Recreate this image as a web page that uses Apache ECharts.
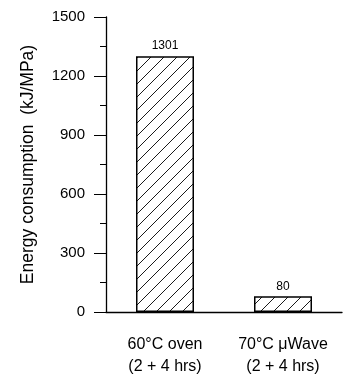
<!DOCTYPE html>
<html><head><meta charset="utf-8">
<script src="https://cdn.jsdelivr.net/npm/echarts@6/dist/echarts.min.js"></script>
<style>html,body{margin:0;padding:0;background:#fff}#c{width:350px;height:378px}</style>
</head><body><div id="c"></div>
<script>
const categories = ['60°C oven\n(2 + 4 hrs)', '70°C μWave\n(2 + 4 hrs)'];
const values = [1301, 80];
const yTicks = [0, 300, 600, 900, 1200, 1500];

function hatch() {
  const s = 13;
  const c = document.createElement('canvas');
  c.width = s; c.height = s;
  const g = c.getContext('2d');
  g.fillStyle = '#fff'; g.fillRect(0, 0, s, s);
  g.strokeStyle = '#000'; g.lineWidth = 0.9;
  g.beginPath();
  g.moveTo(-1, s + 1); g.lineTo(s + 1, -1);
  g.moveTo(-1, 1); g.lineTo(1, -1);
  g.moveTo(s - 1, s + 1); g.lineTo(s + 1, s - 1);
  g.stroke();
  return c;
}

const chart = echarts.init(document.getElementById('c'), null, {renderer: 'canvas'});
const font = 'Liberation Sans, Arial, sans-serif';
chart.setOption({
  animation: false,
  grid: {left: 106, right: 8, top: 17, bottom: 62, containLabel: false},
  xAxis: {
    type: 'category', data: categories,
    axisLine: {lineStyle: {color: '#000', width: 1.3}},
    axisTick: {show: false},
    axisLabel: {color: '#000', fontFamily: font, fontSize: 16, lineHeight: 22, margin: 22}
  },
  yAxis: {
    type: 'value', min: yTicks[0], max: yTicks[yTicks.length - 1], interval: 300,
    name: 'Energy consumption  (kJ/MPa)', nameLocation: 'middle', nameGap: 69,
    nameTextStyle: {color: '#000', fontFamily: font, fontSize: 17.5},
    axisLine: {show: true, lineStyle: {color: '#000', width: 1.3}},
    axisTick: {show: true, length: 12, lineStyle: {color: '#000', width: 1}},
    minorTick: {show: true, splitNumber: 2, length: 6, lineStyle: {color: '#000', width: 1}},
    splitLine: {show: false},
    axisLabel: {color: '#000', fontFamily: font, fontSize: 15, margin: 21, formatter: v => String(v)}
  },
  series: [{
    type: 'bar', data: values, barWidth: 58,
    itemStyle: {color: {image: hatch(), repeat: 'repeat'}, borderColor: '#000', borderWidth: 1.5},
    label: {show: true, position: 'top', color: '#000', fontFamily: font, fontSize: 12, distance: 4}
  }]
});
</script></body></html>
